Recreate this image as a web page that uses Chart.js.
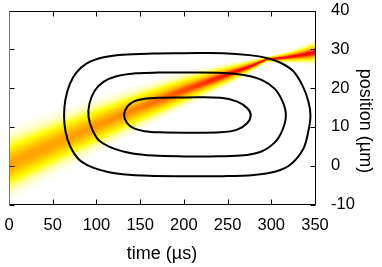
<!DOCTYPE html>
<html>
<head>
<meta charset="utf-8">
<script src="https://cdn.jsdelivr.net/npm/chart.js@4"></script>
<style>
html, body { margin:0; padding:0; background:#fff; }
#wrap { width:382px; height:267px; }
</style>
</head>
<body>
<div id="wrap"><canvas id="chart" width="382" height="267"></canvas></div>
<script>
const xTicks = [0, 50, 100, 150, 200, 250, 300, 350];
const yTicks = [-10, 0, 10, 20, 30, 40];

// beam: centre line (µm), half width (µm), peak level 0..1
const beamTime   = [0,    50,   100,  150,  200,  250,  275,  295,  317,  337,  350];
const beamCenter = [0.3,  5.4,  10.3, 15.0, 19.4, 23.5, 25.5, 27.4, 27.9, 28.6, 29.2];
const beamHalf   = [8.0,  7.1,  6.1,  5.1,  4.0,  2.6,  1.6,  0.7,  1.3,  2.1,  2.8];
const beamPeak   = [0.65, 0.66, 0.68, 0.73, 0.85, 0.97, 1,    1,    1,    1,    1];

// contours, point by point (time µs, position µm)
const outerTime  = [200, 245, 275, 296, 310, 325, 336, 342.5, 344.8, 342.5, 336.5, 322, 305, 280, 245, 200, 160, 130, 113, 94, 80, 70, 64.5, 63, 64.5, 69.5, 77, 89, 107, 130, 165, 200];
const outerPos   = [29.0, 29.0, 28.5, 27.7, 26.6, 24.4, 20.5, 16.5, 13.0, 9.0, 4.3, 0.3, -1.5, -2.4, -2.7, -2.7, -2.6, -2.2, -1.6, -0.3, 1.6, 5.0, 9.0, 13.0, 17.0, 21.0, 24.0, 26.4, 27.9, 28.6, 28.9, 29.0];
const middleTime = [200, 245, 270, 290, 304, 313, 316.7, 313, 304, 288, 265, 230, 200, 165, 140, 120, 103, 95.5, 91, 92, 98, 108, 122, 145, 170, 200];
const middlePos  = [24.0, 23.9, 23.3, 22.0, 19.8, 16.5, 13.0, 9.3, 6.0, 3.6, 2.6, 2.4, 2.4, 2.6, 3.2, 4.4, 6.5, 9.2, 12.5, 16.0, 19.3, 21.6, 23.0, 23.8, 24.0, 24.0];
const innerTime  = [200, 242, 261, 272.6, 276.5, 272.6, 261, 242, 200, 172.9, 155, 143, 135, 131.6, 135.5, 143, 153.8, 172.9, 200];
const innerPos   = [17.6, 17.5, 16.5, 14.8, 13.0, 11.0, 9.3, 8.6, 8.5, 8.6, 8.9, 9.6, 11.0, 13.2, 15.3, 16.6, 17.2, 17.5, 17.6];

const FONT = '"Liberation Sans", Arial, Helvetica, sans-serif';

function pts(ts, ys) { return ts.map((t, i) => ({x: t, y: ys[i]})); }
function contour(ts, ys) {
    return { data: pts(ts, ys), showLine: true, borderColor: '#000', borderWidth: 2,
             pointRadius: 0, tension: 0.35, fill: false };
}

// white -> yellow -> orange -> red
const pal = [[0, [255,255,255]], [0.25, [255,255,0]], [0.65, [255,165,0]], [1, [255,0,0]]];
function palColor(v) {
    v = Math.max(0, Math.min(1, v));
    for (let i = 1; i < pal.length; i++) {
        if (v <= pal[i][0]) {
            const f = (v - pal[i-1][0]) / (pal[i][0] - pal[i-1][0]);
            const a = pal[i-1][1], b = pal[i][1];
            return `rgb(${a.map((c,k)=>Math.round(c + (b[k]-c)*f)).join(',')})`;
        }
    }
    return 'rgb(255,0,0)';
}
function lerpAt(t, arr) {
    let i = 1;
    while (i < beamTime.length - 1 && t > beamTime[i]) i++;
    const f = (t - beamTime[i-1]) / (beamTime[i] - beamTime[i-1]);
    return arr[i-1] + (arr[i] - arr[i-1]) * f;
}

// one gradient strip per pixel column, placed with the chart's scales
const beamPlugin = {
    id: 'beam',
    beforeDatasetsDraw(chart) {
        const {ctx, chartArea: a, scales: {x, y}} = chart;
        ctx.save();
        ctx.beginPath();
        ctx.rect(a.left, a.top, a.right - a.left, a.bottom - a.top);
        ctx.clip();
        for (let px = Math.floor(a.left); px < Math.ceil(a.right); px++) {
            const t = x.getValueForPixel(px + 0.5);
            const c = lerpAt(t, beamCenter), h = lerpAt(t, beamHalf) * 1.25, p = lerpAt(t, beamPeak);
            const top = y.getPixelForValue(c + h), bot = y.getPixelForValue(c - h);
            const g = ctx.createLinearGradient(0, top, 0, bot);
            for (let k = 0; k <= 24; k++) {
                const u = (k / 12 - 1) * 1.25;
                g.addColorStop(k / 24, palColor(p * Math.exp(-3 * u * u)));
            }
            ctx.fillStyle = g;
            ctx.fillRect(px, top, 1, bot - top);
        }
        ctx.restore();
    }
};

const framePlugin = {
    id: 'frame',
    afterDatasetsDraw(chart) {
        const {ctx, chartArea: a, scales: {x, y}} = chart;
        const L = Math.round(a.left) + 0.5, R = Math.round(a.right) + 0.5;
        const T = Math.round(a.top) + 0.5, B = Math.round(a.bottom) - 0.5;
        ctx.save();
        ctx.lineWidth = 1;
        ctx.strokeStyle = '#000';
        ctx.beginPath();
        xTicks.forEach(v => {
            const p = Math.round(x.getPixelForValue(v)) + 0.5;
            ctx.moveTo(p, B); ctx.lineTo(p, B - 5);
            ctx.moveTo(p, T); ctx.lineTo(p, T + 5);
        });
        yTicks.forEach(v => {
            const p = Math.round(y.getPixelForValue(v)) + 0.5;
            ctx.moveTo(L, p); ctx.lineTo(L + 5, p);
            ctx.moveTo(R, p); ctx.lineTo(R - 5, p);
        });
        ctx.moveTo(L, T); ctx.lineTo(R, T); ctx.lineTo(R, B); ctx.lineTo(L, B);
        ctx.stroke();
        ctx.strokeStyle = '#777';
        ctx.beginPath();
        ctx.moveTo(L, T); ctx.lineTo(L, B);
        ctx.stroke();
        ctx.restore();
    },
    afterDraw(chart) {
        // y title sits a little below the middle of the axis
        const ctx = chart.ctx;
        ctx.save();
        ctx.translate(365, 121);
        ctx.rotate(Math.PI / 2);
        ctx.font = `18px ${FONT}`;
        ctx.fillStyle = '#000';
        ctx.textAlign = 'center';
        ctx.textBaseline = 'middle';
        ctx.fillText('position (µm)', 0, 0);
        ctx.restore();
    }
};

new Chart(document.getElementById('chart'), {
    type: 'scatter',
    data: {
        datasets: [
            contour(outerTime, outerPos),
            contour(middleTime, middlePos),
            contour(innerTime, innerPos)
        ]
    },
    options: {
        responsive: false,
        animation: false,
        layout: { padding: { left: 9, top: 10.5, right: 0, bottom: 0 } },
        plugins: { legend: { display: false }, tooltip: { enabled: false } },
        scales: {
            x: {
                type: 'linear', min: 0, max: 350, position: 'bottom',
                afterBuildTicks: s => { s.ticks = xTicks.map(v => ({value: v})); },
                afterFit: s => { s.height = 62.5; s.paddingLeft = 0; s.paddingRight = 0; },
                grid: { display: false, drawTicks: false },
                border: { display: false },
                ticks: { padding: 11, color: '#000', maxRotation: 0, autoSkip: false,
                         font: { family: FONT, size: 16.5 } },
                title: { display: true, text: 'time (µs)', color: '#000',
                         font: { family: FONT, size: 18 }, padding: { top: 0, bottom: 2 } }
            },
            y: {
                type: 'linear', min: -10, max: 40, position: 'right',
                afterBuildTicks: s => { s.ticks = yTicks.map(v => ({value: v})); },
                afterFit: s => { s.width = 67; s.paddingTop = 0; s.paddingBottom = 0; },
                grid: { display: false, drawTicks: false },
                border: { display: false },
                ticks: { padding: 16, color: '#000', autoSkip: false,
                         font: { family: FONT, size: 16.5 } }
            }
        }
    },
    plugins: [beamPlugin, framePlugin]
});
</script>
</body>
</html>
